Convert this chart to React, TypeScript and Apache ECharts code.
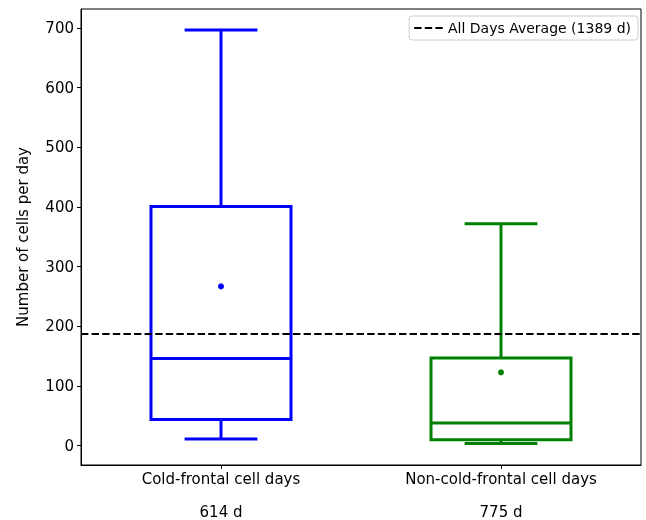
import React, { useEffect, useRef } from "react";
import * as echarts from "echarts";

const categories = ["Cold-frontal cell days", "Non-cold-frontal cell days"];
const dayCounts = ["614 d", "775 d"];
// [lower whisker, Q1, median, Q3, upper whisker]
const boxStats = [
  [11, 44, 146, 401, 697],
  [3.5, 10, 38, 147, 372],
];
const means = [267, 123];
const colors = ["#0000ff", "#008000"];
const averageValue = 187;
const averageLabel = "All Days Average (1389 d)";
const yTicks = [0, 100, 200, 300, 400, 500, 600, 700];

const FONT = "DejaVu Sans";

export default function App() {
  const ref = useRef<HTMLDivElement>(null);
  useEffect(() => {
    if (!ref.current) return;
    const chart = echarts.init(ref.current, undefined, { renderer: "svg" });
    const boxData = boxStats.map((s, i) => [i, ...s]);
    chart.setOption({
      animation: false,
      textStyle: { fontFamily: FONT },
      grid: {
        left: 81,
        right: 5,
        top: 9,
        bottom: 55,
        containLabel: false,
        outerBoundsMode: "none",
        show: true,
        borderColor: "#000",
        borderWidth: 1,
        backgroundColor: "transparent",
      },
      legend: {
        right: 8,
        top: 16,
        data: [{ name: averageLabel, icon: "path://M0,0h7.4v2h-7.4z M10.6,0h7.4v2h-7.4z M21.2,0h7.4v2h-7.4z" }],
        itemWidth: 29,
        itemHeight: 2,
        itemGap: 10,
        padding: [5, 7, 5, 5],
        borderColor: "#cccccc",
        borderWidth: 1,
        borderRadius: 3,
        itemStyle: { color: "#000" },
        textStyle: { fontFamily: FONT, fontSize: 14, color: "#000" },
      },
      xAxis: {
        type: "category",
        data: categories,
        boundaryGap: true,
        axisLine: { show: true, onZero: false, lineStyle: { color: "#000", width: 1 } },
        axisTick: { show: true, alignWithLabel: true, length: 4, lineStyle: { color: "#000" } },
        axisLabel: {
          interval: 0,
          margin: -3,
          fontFamily: FONT,
          fontSize: 15,
          color: "#000",
          lineHeight: 33,
          formatter: (v: string) => {
            const i = categories.indexOf(v);
            return v + "\n" + dayCounts[i];
          },
        },
        splitLine: { show: false },
      },
      yAxis: {
        type: "value",
        min: -32.4,
        max: 732,
        name: "Number of cells per day",
        nameLocation: "middle",
        nameGap: 51,
        nameTextStyle: { fontFamily: FONT, fontSize: 15, color: "#000" },
        axisLine: { show: true, lineStyle: { color: "#000", width: 1 } },
        axisTick: { show: true, length: 4, customValues: yTicks, lineStyle: { color: "#000" } },
        axisLabel: {
          customValues: yTicks,
          margin: 7,
          fontFamily: FONT,
          fontSize: 15,
          color: "#000",
        },
        splitLine: { show: false },
      },
      series: [
        {
          type: "custom",
          name: "boxes",
          data: boxData,
          encode: { x: 0, y: [1, 2, 3, 4, 5] },
          renderItem: (params: any, api: any) => {
            const idx = api.value(0);
            const vals = [1, 2, 3, 4, 5].map((k) => api.value(k));
            const pts = vals.map((v) => api.coord([idx, v]));
            const cx = pts[0][0];
            const band = api.size([1, 0])[0];
            const hw = band * 0.25;
            const cw = band * 0.13;
            const color = colors[idx];
            const st = { stroke: color, lineWidth: 3, fill: "none" };
            const y = pts.map((p: number[]) => p[1]);
            return {
              type: "group",
              children: [
                { type: "rect", shape: { x: cx - hw, y: y[3], width: hw * 2, height: y[1] - y[3] }, style: { ...st } },
                { type: "line", shape: { x1: cx - hw, y1: y[2], x2: cx + hw, y2: y[2] }, style: { ...st } },
                { type: "line", shape: { x1: cx, y1: y[3], x2: cx, y2: y[4] }, style: { ...st } },
                { type: "line", shape: { x1: cx, y1: y[1], x2: cx, y2: y[0] }, style: { ...st } },
                { type: "line", shape: { x1: cx - cw, y1: y[4], x2: cx + cw, y2: y[4] }, style: { ...st } },
                { type: "line", shape: { x1: cx - cw, y1: y[0], x2: cx + cw, y2: y[0] }, style: { ...st } },
              ],
            };
          },
          z: 3,
        },
        {
          type: "scatter",
          name: "means",
          data: means.map((m, i) => ({ value: [i, m], itemStyle: { color: colors[i], opacity: 1 } })),
          symbol: "circle",
          symbolSize: 6,
          itemStyle: { opacity: 1 },
          z: 4,
        },
        {
          type: "line",
          name: averageLabel,
          data: [],
          symbol: "none",
          color: "#000",
          lineStyle: { type: [7.4, 3.2], color: "#000", width: 2 },
          markLine: {
            silent: true,
            symbol: "none",
            label: { show: false },
            lineStyle: { type: [7.4, 3.2], color: "#000", width: 2 },
            data: [{ yAxis: averageValue }],
          },
          z: 2,
        },
      ],
    });
    return () => chart.dispose();
  }, []);
  return <div ref={ref} style={{ position: "fixed", left: 0, top: 0, width: 646, height: 520 }} />;
}
